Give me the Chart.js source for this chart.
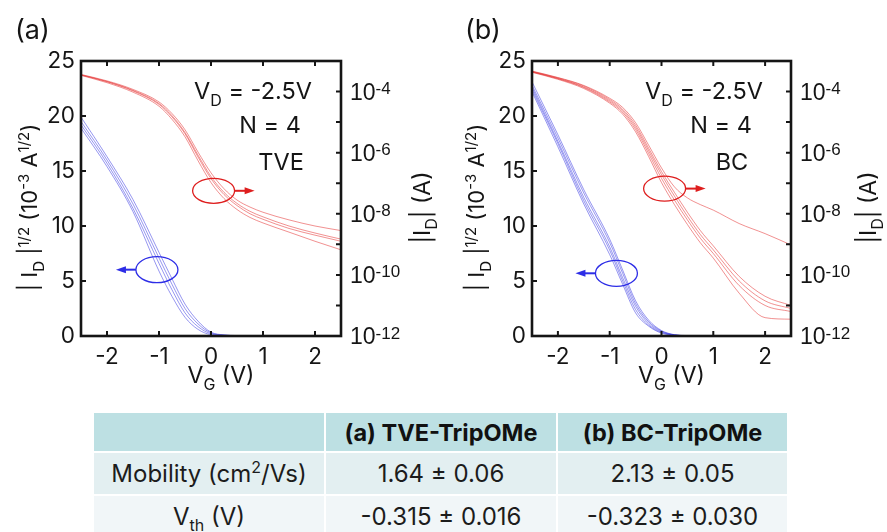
<!DOCTYPE html>
<html>
<head>
<meta charset="utf-8">
<script src="https://cdn.jsdelivr.net/npm/chart.js@4.4.1/dist/chart.umd.min.js"></script>
<style>
  body { margin: 0; background: #fff; }
  #wrap { position: relative; width: 887px; height: 532px; overflow: hidden; }
  #cA { position: absolute; left: 0; top: 0; }
  #cB { position: absolute; left: 445px; top: 0; }
  #tbl { position: absolute; left: 92px; top: 411px; border-collapse: separate; border-spacing: 2px;
         font-family: Inter, "Liberation Sans", Arial, sans-serif; font-size: 24px; color: #1c1c1c; }
  #tbl td { text-align: center; padding: 0; }
  #tbl tr.h td { background: #bde0e3; height: 38px; font-weight: bold; font-size: 23.5px; color: #111; }
  #tbl tr.r1 td { background: #e3eff1; height: 41px; }
  #tbl tr.r2 td { background: #f1f6f8; height: 40px; }
  #tbl sup { font-size: 16px; vertical-align: 9px; line-height: 0; }
  #tbl sub { font-size: 16px; vertical-align: -6px; line-height: 0; }
</style>
</head>
<body>
<div id="wrap">
  <canvas id="cA" width="445" height="400"></canvas>
  <canvas id="cB" width="442" height="400"></canvas>
  <table id="tbl"></table>
</div>
<script>
// gate voltage points (V)
const vg = [-2.5, -2, -1.5, -1, -0.75, -0.5, -0.25, 0, 0.25, 0.5, 0.75, 1, 1.5, 2, 2.5];

// (a) TVE : |ID|^1/2 (10^-3 A^1/2), left axis
const tveSqrt1 = [19.9, 16.3, 12.4, 7.6, 5.2, 2.9, 1.35, 0.35, 0.1, 0.04, 0.02, 0.01, 0, 0, 0];
const tveSqrt2 = [19.5, 16.0, 12.0, 7.1, 4.7, 2.5, 1.1, 0.28, 0.08, 0.03, 0.01, 0, 0, 0, 0];
const tveSqrt3 = [19.2, 15.7, 11.6, 6.6, 4.2, 2.1, 0.85, 0.2, 0.06, 0.02, 0.01, 0, 0, 0, 0];
const tveSqrt4 = [18.9, 15.4, 11.3, 5.9, 3.6, 1.7, 0.6, 0.12, 0.04, 0.01, 0, 0, 0, 0, 0];
// (a) TVE : log10 |ID| (A), right axis
const tveLog1 = [-3.44, -3.65, -3.93, -4.34, -4.72, -5.25, -5.98, -6.66, -7.18, -7.55, -7.78, -7.95, -8.20, -8.40, -8.55];
const tveLog2 = [-3.45, -3.67, -3.96, -4.39, -4.79, -5.34, -6.08, -6.78, -7.30, -7.66, -7.92, -8.10, -8.40, -8.63, -8.83];
const tveLog3 = [-3.46, -3.68, -3.98, -4.42, -4.83, -5.38, -6.14, -6.85, -7.37, -7.73, -8.00, -8.18, -8.48, -8.70, -8.90];
const tveLog4 = [-3.47, -3.71, -4.02, -4.48, -4.91, -5.48, -6.26, -6.98, -7.50, -7.86, -8.12, -8.30, -8.60, -8.90, -9.18];

// (b) BC : |ID|^1/2
const bcSqrt1 = [23.1, 18.3, 13.3, 8.8, 6.0, 3.2, 1.45, 0.5, 0.12, 0.04, 0.02, 0.01, 0, 0, 0];
const bcSqrt2 = [22.8, 18.0, 13.0, 8.5, 5.7, 2.95, 1.3, 0.45, 0.1, 0.03, 0.01, 0, 0, 0, 0];
const bcSqrt3 = [22.6, 17.7, 12.6, 8.1, 5.3, 2.7, 1.15, 0.38, 0.09, 0.03, 0.01, 0, 0, 0, 0];
const bcSqrt4 = [22.4, 17.5, 12.3, 7.8, 5.0, 2.4, 1.0, 0.32, 0.08, 0.02, 0.01, 0, 0, 0, 0];
const bcSqrt5 = [22.2, 17.2, 12.0, 7.4, 4.7, 2.1, 0.9, 0.26, 0.06, 0.02, 0.01, 0, 0, 0, 0];
// (b) BC : log10 |ID|
const bcLog1 = [-3.33, -3.54, -3.80, -4.22, -4.52, -5.02, -5.75, -6.50, -7.12, -7.48, -7.70, -7.88, -8.32, -8.65, -9.02];
const bcLog2 = [-3.34, -3.55, -3.82, -4.26, -4.58, -5.10, -5.85, -6.62, -7.30, -7.95, -8.55, -9.05, -10.05, -10.70, -11.00];
const bcLog3 = [-3.35, -3.57, -3.85, -4.30, -4.63, -5.17, -5.93, -6.72, -7.42, -8.08, -8.68, -9.18, -10.20, -10.85, -11.10];
const bcLog4 = [-3.36, -3.58, -3.87, -4.34, -4.68, -5.24, -6.02, -6.84, -7.55, -8.20, -8.80, -9.30, -10.35, -11.00, -11.20];
const bcLog5 = [-3.37, -3.60, -3.90, -4.38, -4.74, -5.32, -6.12, -6.98, -7.70, -8.35, -8.95, -9.45, -10.60, -11.40, -11.45];

// ticks
const xTicks = [-2, -1, 0, 1, 2];
const leftTicks = [0, 5, 10, 15, 20, 25];
const rightExps = [-12, -11, -10, -9, -8, -7, -6, -5, -4, -3];
const rightLabelExps = [-12, -10, -8, -6, -4];

// table
const tableHead = ['', '(a) TVE-TripOMe', '(b) BC-TripOMe'];
const mobility = ['1.64 \u00b1 0.06', '2.13 \u00b1 0.05'];
const vth = ['-0.315 \u00b1 0.016', '-0.323 \u00b1 0.030'];

const ink = '#151515';
const fam = 'Inter, "Liberation Sans", Arial, sans-serif';
const arial = '"Liberation Sans", Arial, sans-serif';
const blueLine = 'rgba(45,45,225,0.5)';
const redLine = 'rgba(228,35,35,0.5)';
const blueMark = 'rgb(45,45,230)';
const redMark = 'rgb(222,30,30)';

// text with sub/superscripts: parts = [[text, 'n'|'sub'|'sup'], ...]
function rich(ctx, parts, x, y, size, align) {
  let w = 0;
  const items = parts.map(([t, k]) => {
    const s = k === 'n' ? size : Math.round(size * 0.68);
    ctx.font = s + 'px ' + fam;
    const m = ctx.measureText(t).width;
    w += m;
    return {t, k, s, m};
  });
  let cx = align === 'center' ? x - w / 2 : (align === 'right' ? x - w : x);
  ctx.textAlign = 'left';
  ctx.textBaseline = 'alphabetic';
  items.forEach(it => {
    ctx.font = it.s + 'px ' + fam;
    const dy = it.k === 'sub' ? size * 0.3 : (it.k === 'sup' ? -size * 0.38 : 0);
    ctx.fillText(it.t, cx, y + dy);
    cx += it.m;
  });
}

function loop(ctx, px, py, rx, ry, dir, color) {
  ctx.strokeStyle = color;
  ctx.fillStyle = color;
  ctx.lineWidth = 1.3;
  ctx.beginPath();
  ctx.ellipse(px, py, rx, ry, 0, 0, Math.PI * 2);
  ctx.stroke();
  const x0 = px + dir * rx, tip = px + dir * (rx + 20);
  ctx.lineWidth = 2;
  ctx.beginPath();
  ctx.moveTo(x0, py);
  ctx.lineTo(tip - dir * 8, py);
  ctx.stroke();
  ctx.beginPath();
  ctx.moveTo(tip, py);
  ctx.lineTo(tip - dir * 10, py - 3.5);
  ctx.lineTo(tip - dir * 10, py + 3.5);
  ctx.closePath();
  ctx.fill();
}

const decor = {
  id: 'decor',
  afterDraw(chart, args, o) {
    const {ctx, chartArea: a} = chart;
    const sx = chart.scales.x, sy = chart.scales.y, sr = chart.scales.y2;
    ctx.save();
    ctx.strokeStyle = ink;
    ctx.fillStyle = ink;
    ctx.lineWidth = 2.6;
    ctx.strokeRect(a.left, a.top, a.right - a.left, a.bottom - a.top);

    // inward tick marks
    ctx.lineWidth = 2;
    ctx.beginPath();
    xTicks.forEach(v => {
      const p = sx.getPixelForValue(v);
      ctx.moveTo(p, a.bottom); ctx.lineTo(p, a.bottom - 5);
      ctx.moveTo(p, a.top); ctx.lineTo(p, a.top + 5);
    });
    leftTicks.forEach(v => {
      const p = sy.getPixelForValue(v);
      ctx.moveTo(a.left, p); ctx.lineTo(a.left + 5, p);
    });
    rightExps.forEach(e => {
      const p = sr.getPixelForValue(Math.pow(10, e));
      ctx.moveTo(a.right, p); ctx.lineTo(a.right - 5, p);
    });
    ctx.stroke();

    // right axis labels 10^n
    ctx.textAlign = 'left';
    ctx.textBaseline = 'alphabetic';
    rightLabelExps.forEach(e => {
      const p = sr.getPixelForValue(Math.pow(10, e));
      ctx.font = '23px ' + arial;
      ctx.fillText('10', a.right + 9, p + 8);
      const w = ctx.measureText('10').width;
      ctx.font = '17px ' + arial;
      ctx.fillText(String(e), a.right + 9 + w, p + 2.5);
    });

    // axis titles
    const midY = (a.top + a.bottom) / 2 + 9;
    rich(ctx, [['V', 'n'], ['G', 'sub'], [' (V)', 'n']], (a.left + a.right) / 2 + 10, a.bottom + 47, 23, 'center');
    ctx.save();
    ctx.translate(a.left - o.leftTitle + 8, midY);
    ctx.rotate(-Math.PI / 2);
    rich(ctx, [['| I', 'n'], ['D', 'sub'], [' |', 'n'], ['1/2', 'sup'], [' (10', 'n'], ['-3', 'sup'],
               [' A', 'n'], ['1/2', 'sup'], [')', 'n']], 0, 0, 22, 'center');
    ctx.restore();
    ctx.save();
    ctx.translate(a.right + o.rightTitle + 8, midY);
    ctx.rotate(-Math.PI / 2);
    rich(ctx, [['|I', 'n'], ['D', 'sub'], ['| (A)', 'n']], 0, 0, 23, 'center');
    ctx.restore();

    // panel letter and annotations
    ctx.font = '27px ' + fam;
    ctx.fillText(o.panel, o.panelX, 39);
    rich(ctx, [['V', 'n'], ['D', 'sub'], [' = -2.5V', 'n']], a.left + 172, 99, 23.5, 'center');
    rich(ctx, [['N = 4', 'n']], a.left + 189, 133, 23.5, 'center');
    rich(ctx, [[o.label, 'n']], a.left + 200, 170, 23.5, 'center');

    loop(ctx, sx.getPixelForValue(o.red.x), sy.getPixelForValue(o.red.y), 21, 12.5, 1, redMark);
    loop(ctx, sx.getPixelForValue(o.blue.x), sy.getPixelForValue(o.blue.y), 21, 13, -1, blueMark);
    ctx.restore();
  }
};

function line(ys, axis, color, isLog) {
  return {
    data: vg.map((x, i) => ({x: x, y: isLog ? Math.pow(10, ys[i]) : ys[i]})),
    yAxisID: axis,
    borderColor: color,
    borderWidth: 1,
    pointRadius: 0,
    fill: false,
    cubicInterpolationMode: 'monotone'
  };
}

function makeChart(id, cfg) {
  const datasets = [];
  cfg.sqrt.forEach(arr => datasets.push(line(arr, 'y', blueLine, false)));
  cfg.log.forEach(arr => datasets.push(line(arr, 'y2', redLine, true)));
  const tickFont = {family: fam, size: 22.5};
  return new Chart(document.getElementById(id), {
    type: 'line',
    data: {datasets: datasets},
    options: {
      responsive: false,
      animation: false,
      layout: {padding: {top: 61, left: 0, right: 0, bottom: 0}},
      plugins: {legend: {display: false}, tooltip: {enabled: false}, decor: cfg.decor},
      scales: {
        x: {
          type: 'linear', min: -2.5, max: 2.5,
          grid: {display: false, drawTicks: false}, border: {display: false},
          afterBuildTicks: s => { s.ticks = xTicks.map(v => ({value: v})); },
          ticks: {font: tickFont, color: ink, padding: 8, maxRotation: 0, autoSkip: false},
          afterFit: s => { s.height = 400 - 336; }
        },
        y: {
          type: 'linear', position: 'left', min: 0, max: 25,
          grid: {display: false, drawTicks: false}, border: {display: false},
          afterBuildTicks: s => { s.ticks = leftTicks.map(v => ({value: v})); },
          ticks: {font: tickFont, color: ink, padding: 6},
          afterFit: s => { s.width = cfg.leftW; }
        },
        y2: {
          type: 'logarithmic', position: 'right', min: 1e-12, max: 1e-3,
          grid: {display: false, drawTicks: false}, border: {display: false},
          afterBuildTicks: s => { s.ticks = rightExps.map(e => ({value: Math.pow(10, e)})); },
          ticks: {display: false},
          afterFit: s => { s.width = cfg.rightW; }
        }
      }
    },
    plugins: [decor]
  });
}

makeChart('cA', {
  sqrt: [tveSqrt1, tveSqrt2, tveSqrt3, tveSqrt4],
  log: [tveLog1, tveLog2, tveLog3, tveLog4],
  leftW: 81, rightW: 445 - 341,
  decor: {panel: '(a)', panelX: 15, label: 'TVE', leftTitle: 52, rightTitle: 81,
          red: {x: 0.05, y: 13.2}, blue: {x: -1.04, y: 6.03}}
});
makeChart('cB', {
  sqrt: [bcSqrt1, bcSqrt2, bcSqrt3, bcSqrt4, bcSqrt5],
  log: [bcLog1, bcLog2, bcLog3, bcLog4, bcLog5],
  leftW: 532 - 445, rightW: 442 - (791 - 445),
  decor: {panel: '(b)', panelX: 20, label: 'BC', leftTitle: 56, rightTitle: 77,
          red: {x: 0.06, y: 13.4}, blue: {x: -0.87, y: 5.7}}
});

// summary table
const tbl = document.getElementById('tbl');
const widths = [230, 230, 229];
function row(cls, cells) {
  const tr = document.createElement('tr');
  tr.className = cls;
  cells.forEach((c, i) => {
    const td = document.createElement('td');
    td.style.width = widths[i] + 'px';
    td.innerHTML = c;
    tr.appendChild(td);
  });
  tbl.appendChild(tr);
}
row('h', tableHead);
row('r1', ['Mobility (cm<sup>2</sup>/Vs)'].concat(mobility));
row('r2', ['V<sub>th</sub> (V)'].concat(vth));
</script>
</body>
</html>
